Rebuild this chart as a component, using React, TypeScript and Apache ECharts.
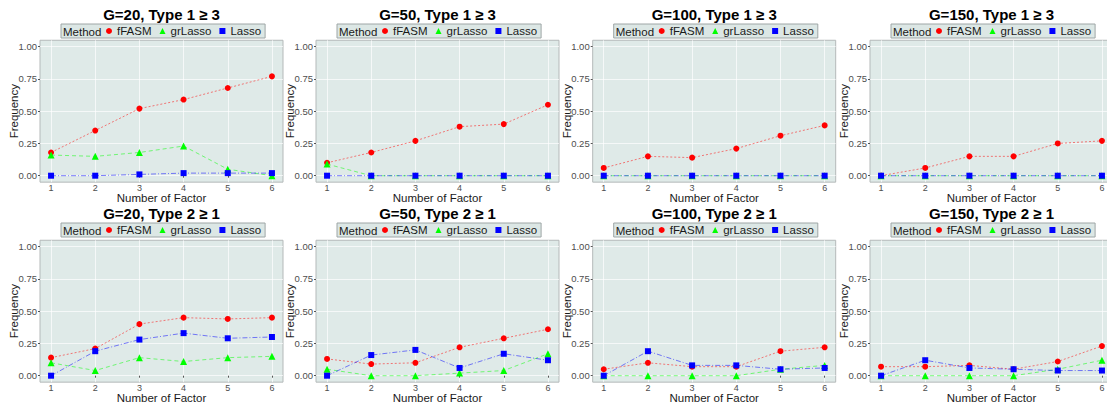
import React, { useEffect, useRef } from "react";
import * as echarts from "echarts";

const factors = [1, 2, 3, 4, 5, 6];
const gLabels = ["20", "50", "100", "150"];
const methods = ["fFASM", "grLasso", "Lasso"];
const yTicks = [0, 0.25, 0.5, 0.75, 1];

// Type 1 >= 3, one row per G (20, 50, 100, 150)
const type1FFASM = [
  [0.18, 0.35, 0.52, 0.59, 0.68, 0.77],
  [0.10, 0.18, 0.27, 0.38, 0.40, 0.55],
  [0.06, 0.15, 0.14, 0.21, 0.31, 0.39],
  [0.00, 0.06, 0.15, 0.15, 0.25, 0.27],
];
const type1GrLasso = [
  [0.16, 0.15, 0.18, 0.23, 0.05, 0.00],
  [0.09, 0.00, 0.00, 0.00, 0.00, 0.00],
  [0.00, 0.00, 0.00, 0.00, 0.00, 0.00],
  [0.00, 0.00, 0.00, 0.00, 0.00, 0.00],
];
const type1Lasso = [
  [0.00, 0.00, 0.01, 0.02, 0.02, 0.02],
  [0.00, 0.00, 0.00, 0.00, 0.00, 0.00],
  [0.00, 0.00, 0.00, 0.00, 0.00, 0.00],
  [0.00, 0.00, 0.00, 0.00, 0.00, 0.00],
];
// Type 2 >= 1
const type2FFASM = [
  [0.14, 0.21, 0.40, 0.45, 0.44, 0.45],
  [0.13, 0.09, 0.10, 0.22, 0.29, 0.36],
  [0.05, 0.10, 0.07, 0.07, 0.19, 0.22],
  [0.07, 0.07, 0.08, 0.05, 0.11, 0.23],
];
const type2GrLasso = [
  [0.10, 0.04, 0.14, 0.11, 0.14, 0.15],
  [0.05, 0.00, 0.00, 0.02, 0.04, 0.17],
  [0.00, 0.00, 0.00, 0.00, 0.05, 0.08],
  [0.00, 0.00, 0.00, 0.00, 0.05, 0.12],
];
const type2Lasso = [
  [0.00, 0.19, 0.28, 0.33, 0.29, 0.30],
  [0.00, 0.16, 0.20, 0.06, 0.17, 0.12],
  [0.00, 0.19, 0.08, 0.08, 0.05, 0.06],
  [0.00, 0.12, 0.06, 0.05, 0.04, 0.04],
];

const FONT = "'Liberation Sans', Arial, sans-serif";
const COLORS = ["#ff0000", "#00ff00", "#0000ff"];
const SYMBOLS = ["circle", "triangle", "rect"];
const SYMBOL_SIZES = [6, 7, 6];
const DASHES: number[][] = [
  [2, 2],
  [4, 3],
  [5, 2, 1, 2],
];

export default function App() {
  const ref = useRef<HTMLDivElement>(null);

  useEffect(() => {
    if (!ref.current) return;
    const chart = echarts.init(ref.current, undefined, { renderer: "svg" });

    const colOffsets = [0, 276, 552.7, 830];
    const rowTops = [40.25, 240.25];
    const legendTops = [24, 223];
    const titleYs = [14, 213];
    const plotW = 243;
    const plotH = 141.9;
    const rows = [
      { label: "Type 1 \u2265 3", data: [type1FFASM, type1GrLasso, type1Lasso] },
      { label: "Type 2 \u2265 1", data: [type2FFASM, type2GrLasso, type2Lasso] },
    ];

    const grids: any[] = [];
    const xAxes: any[] = [];
    const yAxes: any[] = [];
    const series: any[] = [];
    const legends: any[] = [];
    const graphics: any[] = [];

    rows.forEach((row, r) => {
      gLabels.forEach((g, c) => {
        const idx = r * 4 + c;
        const left = 40 + colOffsets[c];
        grids.push({
          left,
          top: rowTops[r],
          width: plotW,
          height: plotH,
          show: true,
          backgroundColor: "#dfeae8",
          borderColor: "#b4b9b9",
          borderWidth: 1,
          outerBoundsMode: "none",
        });
        xAxes.push({
          gridIndex: idx,
          type: "value",
          min: 0.75,
          max: 6.25,
          axisLine: { show: false },
          axisTick: { show: true, length: 2, customValues: factors, lineStyle: { color: "#555" } },
          axisLabel: {
            customValues: factors,
            fontSize: 9,
            lineHeight: 9,
            color: "#4d4d4d",
            margin: 1,
            fontFamily: FONT,
          },
          splitLine: { show: true, lineStyle: { color: "rgba(255,255,255,0.85)", width: 0.8 } },
          name: "Number of Factor",
          nameLocation: "middle",
          nameGap: 10,
          nameMoveOverlap: false,
          nameTextStyle: { fontSize: 11.5, lineHeight: 11, color: "#1a1a1a", fontFamily: FONT },
        });
        yAxes.push({
          gridIndex: idx,
          type: "value",
          min: -0.05,
          max: 1.05,
          axisLine: { show: false },
          axisTick: { show: true, length: 2, customValues: yTicks, lineStyle: { color: "#555" } },
          axisLabel: {
            customValues: yTicks,
            formatter: (v: number) => v.toFixed(2),
            fontSize: 9.5,
            color: "#4d4d4d",
            margin: 3,
            fontFamily: FONT,
          },
          splitLine: { show: true, lineStyle: { color: "rgba(255,255,255,0.85)", width: 0.8 } },
          name: "Frequency",
          nameLocation: "middle",
          nameGap: 20,
          nameMoveOverlap: false,
          nameTextStyle: { fontSize: 11.5, color: "#1a1a1a", fontFamily: FONT },
        });

        methods.forEach((m, k) => {
          const vals = row.data[k][c];
          const pts = factors.map((f, i) => [f, vals[i]]);
          series.push({
            type: "line",
            name: m + " line",
            xAxisIndex: idx,
            yAxisIndex: idx,
            data: pts,
            showSymbol: false,
            symbol: "none",
            z: 2,
            lineStyle: { color: COLORS[k], opacity: 0.5, width: 1, type: DASHES[k] },
            silent: true,
          });
          series.push({
            type: "scatter",
            name: m,
            xAxisIndex: idx,
            yAxisIndex: idx,
            data: pts,
            symbol: SYMBOLS[k],
            symbolSize: SYMBOL_SIZES[k],
            itemStyle: { color: COLORS[k], opacity: 1 },
            z: 3,
            silent: true,
          });
        });

        const legendLeft = 61 + colOffsets[c];
        legends.push({
          left: legendLeft,
          top: legendTops[r],
          orient: "horizontal",
          padding: [1, 4, 1, 45],
          itemWidth: 6,
          itemHeight: 6,
          itemGap: 8,
          selectedMode: false,
          backgroundColor: "#dce7e5",
          borderColor: "#9ea6a6",
          borderWidth: 1,
          textStyle: { fontSize: 11.5, color: "#1a1a1a", fontFamily: FONT, lineHeight: 12 },
          data: methods.map((m, k) => ({ name: m, icon: SYMBOLS[k] })),
        });
        graphics.push({
          type: "text",
          x: legendLeft + 2,
          y: legendTops[r] + 7.5,
          z: 100,
          style: {
            text: "Method",
            fontSize: 11.5,
            fill: "#1a1a1a",
            fontFamily: FONT,
            verticalAlign: "middle",
            align: "left",
          },
        });
        graphics.push({
          type: "text",
          x: left + plotW / 2,
          y: titleYs[r],
          style: {
            text: "G=" + g + ", " + row.label,
            fontSize: 15,
            fontWeight: "bold",
            fill: "#000",
            fontFamily: FONT,
            align: "center",
            verticalAlign: "middle",
          },
        });
      });
    });

    chart.setOption({
      animation: false,
      grid: grids,
      xAxis: xAxes,
      yAxis: yAxes,
      series,
      legend: legends,
      graphic: graphics,
    });

    return () => chart.dispose();
  }, []);

  return (
    <div
      ref={ref}
      style={{ position: "fixed", left: 0, top: 0, width: 1107, height: 408, background: "#fff" }}
    />
  );
}
